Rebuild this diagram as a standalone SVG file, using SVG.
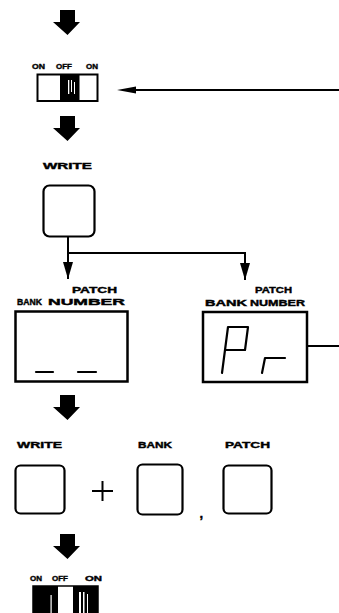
<svg xmlns="http://www.w3.org/2000/svg" width="339" height="613" viewBox="0 0 339 613">
<defs>
<style>
.lbl{font-family:"Liberation Sans",Arial,sans-serif;font-weight:bold;font-size:9px;fill:#000;stroke:#000;stroke-width:0.4}
.sw{font-size:7.5px}
.btn{fill:#fff;stroke:#000;stroke-width:2.2}
.disp{fill:#fff;stroke:#000;stroke-width:2.5}
.ln{fill:none;stroke:#000;stroke-width:2}
.seg{fill:none;stroke:#000;stroke-width:2.2;stroke-linecap:round;stroke-linejoin:round}
.blk{fill:#000}
</style>
<marker id="ah" viewBox="0 0 17 10" refX="17" refY="5" markerWidth="17" markerHeight="10" markerUnits="userSpaceOnUse" orient="auto">
<path d="M0,0 L17,5 L0,10 Z" fill="#000"/>
</marker>
<path id="bigArrow" d="M60,0 H75 V12 H80 L67.5,25 L53,12 H60 Z"/>
</defs>
<rect width="339" height="613" fill="#fff"/>

<g id="arrow1"><use href="#bigArrow" class="blk" transform="translate(0,10)"/></g>

<g id="switch1">
<text class="lbl sw" x="32" y="68.5" textLength="13" lengthAdjust="spacingAndGlyphs">ON</text>
<text class="lbl sw" x="56" y="68.5" textLength="16" lengthAdjust="spacingAndGlyphs">OFF</text>
<text class="lbl sw" x="86" y="68.5" textLength="12" lengthAdjust="spacingAndGlyphs">ON</text>
<rect x="37.5" y="74.5" width="60" height="26.5" fill="#fff" stroke="#000" stroke-width="2"/>
<rect x="60" y="74.5" width="19.5" height="26.5" fill="#000"/>
<rect x="68" y="80" width="1.3" height="14" fill="#fff"/>
<rect x="71" y="80" width="1" height="12" fill="#fff"/>
<rect x="74" y="82" width="1" height="12" fill="#fff"/>
</g>

<g id="arrow2"><use href="#bigArrow" class="blk" transform="translate(0,116)"/></g>

<g id="write1">
<text class="lbl" x="43" y="168.5" textLength="49" lengthAdjust="spacingAndGlyphs">WRITE</text>
<rect class="btn" x="43.5" y="185.5" width="51" height="51" rx="6"/>
</g>

<g id="display1">
<text class="lbl" x="72" y="292.5" textLength="45" lengthAdjust="spacingAndGlyphs">PATCH</text>
<text class="lbl" x="17" y="305" textLength="25" lengthAdjust="spacingAndGlyphs">BANK</text>
<text class="lbl" x="48" y="305" textLength="77" lengthAdjust="spacingAndGlyphs">NUMBER</text>
<rect class="disp" x="15.5" y="311.5" width="112" height="70"/>
<line class="seg" x1="36" y1="372" x2="53" y2="372"/>
<line class="seg" x1="78" y1="372" x2="96" y2="372"/>
</g>

<g id="display2">
<text class="lbl" x="255" y="292.5" textLength="37" lengthAdjust="spacingAndGlyphs">PATCH</text>
<text class="lbl" x="205" y="306" textLength="42" lengthAdjust="spacingAndGlyphs">BANK</text>
<text class="lbl" x="250" y="306" textLength="55" lengthAdjust="spacingAndGlyphs">NUMBER</text>
<rect class="disp" x="203" y="312" width="104" height="70"/>
<path class="seg" d="M222,373 L228,327 H248 L245,350 H225"/>
<path class="seg" d="M262,373 L265,358 H285"/>
</g>

<g id="arrow3"><use href="#bigArrow" class="blk" transform="translate(0,395)"/></g>

<g id="write2">
<text class="lbl" x="17" y="448" textLength="45" lengthAdjust="spacingAndGlyphs">WRITE</text>
<rect class="btn" x="15.5" y="465.5" width="49" height="48" rx="5"/>
</g>

<g id="plus">
<line class="ln" x1="92" y1="491" x2="113" y2="491"/>
<line class="ln" x1="102.5" y1="481" x2="102.5" y2="501"/>
</g>

<g id="bank">
<text class="lbl" x="138" y="448" textLength="34" lengthAdjust="spacingAndGlyphs">BANK</text>
<rect class="btn" x="137.5" y="464.5" width="45" height="50" rx="5"/>
<text class="lbl" x="199.5" y="518" style="font-size:13px">,</text>
</g>

<g id="patch">
<text class="lbl" x="225" y="448" textLength="45" lengthAdjust="spacingAndGlyphs">PATCH</text>
<rect class="btn" x="223.5" y="465.5" width="48" height="48" rx="5"/>
</g>

<g id="arrow4"><use href="#bigArrow" class="blk" transform="translate(0,534)"/></g>

<g id="switch2">
<text class="lbl sw" x="30" y="581" textLength="12" lengthAdjust="spacingAndGlyphs">ON</text>
<text class="lbl sw" x="52" y="581" textLength="16" lengthAdjust="spacingAndGlyphs">OFF</text>
<text class="lbl sw" x="85" y="581" textLength="17" lengthAdjust="spacingAndGlyphs">ON</text>
<rect x="33" y="586" width="65" height="30" fill="#fff" stroke="#000" stroke-width="1.5"/>
<rect x="33" y="586" width="25" height="30" fill="#000"/>
<rect x="50.5" y="595" width="1.2" height="18" fill="#fff"/>
<rect x="73" y="586" width="25" height="30" fill="#000"/>
<rect x="79" y="592" width="2" height="21" fill="#fff"/>
<rect x="83" y="592" width="1.5" height="21" fill="#fff"/>
<rect x="87" y="594" width="1" height="19" fill="#fff"/>
</g>

<g id="connectors">
<line class="ln" x1="339" y1="90" x2="135" y2="90"/>
<path d="M117,90 L136,86.5 L136,93.5 Z" fill="#000"/>
<path class="ln" d="M68,237 V279" marker-end="url(#ah)"/>
<path class="ln" d="M68,253 H245 V280" marker-end="url(#ah)"/>
<line class="ln" x1="307" y1="346" x2="339" y2="346"/>
</g>
</svg>
